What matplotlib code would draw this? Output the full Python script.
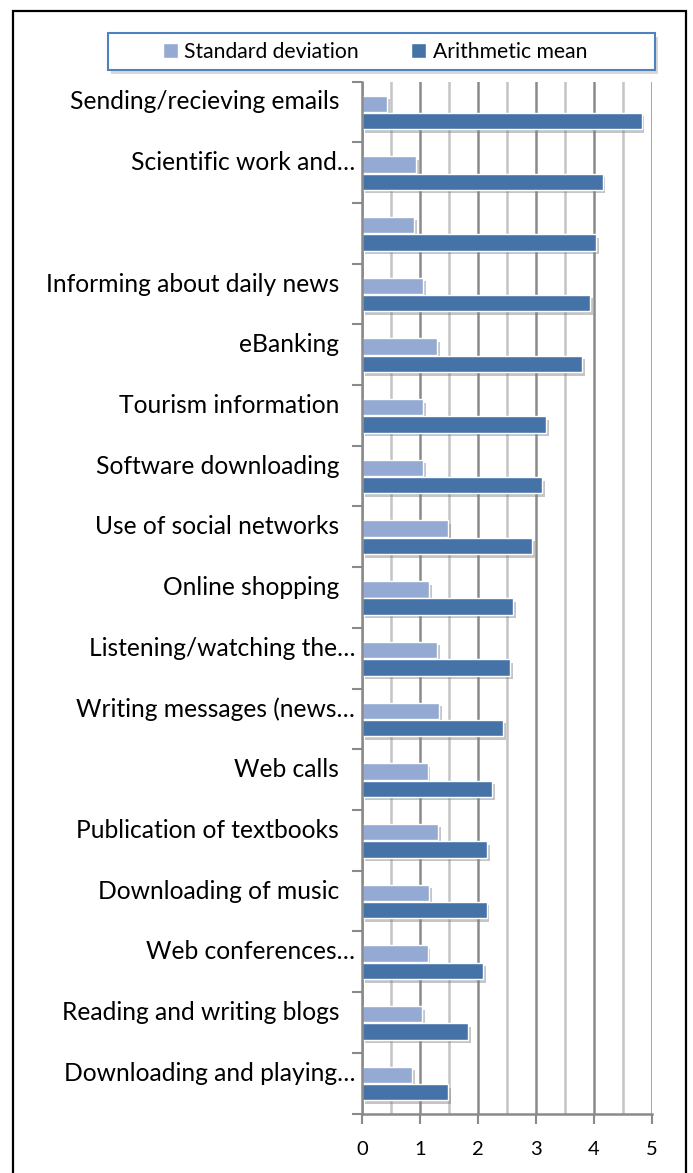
import matplotlib
matplotlib.use("Agg")
import matplotlib.pyplot as plt
import matplotlib.transforms as mtransforms
from matplotlib.patches import Rectangle, Patch
import matplotlib.patheffects as pe
import numpy as np

plt.rcParams['font.family'] = ['Lato', 'DejaVu Sans']

categories = ["Sending/recieving emails", "Scientific work and…", "",
              "Informing about daily news", "eBanking", "Tourism information",
              "Software downloading", "Use of social networks", "Online shopping",
              "Listening/watching the…", "Writing messages (news…", "Web calls",
              "Publication of textbooks", "Downloading of music", "Web conferences…",
              "Reading and writing blogs", "Downloading and playing…"]
std_dev = [0.43, 0.93, 0.90, 1.06, 1.29, 1.05, 1.05, 1.49, 1.16, 1.29, 1.33,
           1.13, 1.31, 1.16, 1.13, 1.04, 0.87]
mean = [4.82, 4.15, 4.03, 3.93, 3.80, 3.17, 3.11, 2.93, 2.61, 2.55, 2.43,
        2.24, 2.16, 2.15, 2.09, 1.83, 1.48]
x_ticks = [0, 1, 2, 3, 4, 5]
series_labels = ["Standard deviation", "Arithmetic mean"]

c_sd = "#94aad3"
c_mean = "#4573a8"

W, H = 693, 1173
fig = plt.figure(figsize=(W / 100, H / 100), dpi=100)

ax = fig.add_axes([362 / W, 1 - 1113.5 / H, (652 - 362) / W, (1113.5 - 81.6) / H])

y = np.arange(len(categories))
bh = 0.27
shadow = [pe.SimplePatchShadow(offset=(2, -2.5), shadow_rgbFace="#7f7f7f", alpha=0.45), pe.Normal()]
ax.barh(y - 0.135, std_dev, height=bh, color=c_sd, edgecolor="white", linewidth=1.0,
        path_effects=shadow, zorder=3)
ax.barh(y + 0.15, mean, height=bh, color=c_mean, edgecolor="white", linewidth=1.0,
        path_effects=shadow, zorder=3)

ax.set_xlim(0, 5)
ax.set_ylim(len(categories) - 0.5, -0.5)
ax.set_xticks(x_ticks)
ax.set_xticks(np.arange(0.5, 5, 1.0), minor=True)
ax.set_xticklabels([str(v) for v in x_ticks], fontsize=14.5)
ax.grid(which="major", axis="x", color="#8a8a8a", lw=1.8, zorder=0)
ax.grid(which="minor", axis="x", color="#c4c4c4", lw=1.8, zorder=0)
ax.tick_params(axis="x", which="major", length=7, width=1.5, color="#8a8a8a", pad=13)
ax.tick_params(axis="x", which="minor", length=0)

# y: boundaries as major ticks, labels at centers on minor ticks
ax.set_yticks(np.arange(-0.5, len(categories) + 0.5, 1.0))
ax.set_yticklabels([])
ax.set_yticks(y, minor=True)
ax.set_yticklabels(categories, minor=True, fontsize=17.7)
ax.tick_params(axis="y", which="major", length=7, width=1.5, color="#8a8a8a")
ax.tick_params(axis="y", which="minor", length=0, pad=5)

for lbl in ax.get_yticklabels(minor=True):
    txt = lbl.get_text()
    dx = 0 if txt.endswith("…") else -16
    lbl.set_transform(lbl.get_transform() +
                      mtransforms.ScaledTranslation(dx / 100, 12 / 100, fig.dpi_scale_trans))

for s in ["top", "right"]:
    ax.spines[s].set_visible(False)
for s in ["left", "bottom"]:
    ax.spines[s].set_color("#8a8a8a")
    ax.spines[s].set_linewidth(1.8)
    ax.spines[s].set_zorder(4)

# outer frame
fig.patches.append(Rectangle((13 / W, -0.02), (686 - 13) / W, (H - 11) / H + 0.02,
                             transform=fig.transFigure, fill=False, edgecolor="black",
                             linewidth=1.6))

# legend frame with shadow
lx0, lx1, ly0, ly1 = 108, 655, 33, 70
fig.patches.append(Rectangle(((lx0 + 3) / W, 1 - (ly1 + 4) / H), (lx1 - lx0) / W, (ly1 - ly0) / H,
                             transform=fig.transFigure, facecolor="#bdbdbd", edgecolor="none",
                             alpha=0.6, zorder=5))
fig.patches.append(Rectangle((lx0 / W, 1 - ly1 / H), (lx1 - lx0) / W, (ly1 - ly0) / H,
                             transform=fig.transFigure, facecolor="white", edgecolor="#4f81bd",
                             linewidth=1.5, zorder=6))
handles = [Patch(facecolor=c_sd, edgecolor="white"), Patch(facecolor=c_mean, edgecolor="white")]
leg = fig.legend(handles, series_labels, loc="center",
                 bbox_to_anchor=((lx0 + lx1) / 2 / W - 0.0095, 1 - 51.5 / H),
                 ncol=2, frameon=False, fontsize=15.2, handlelength=0.7, handleheight=0.7,
                 handletextpad=0.3, columnspacing=2.5)
leg.set_zorder(7)

fig.savefig("out.png", dpi=100)
